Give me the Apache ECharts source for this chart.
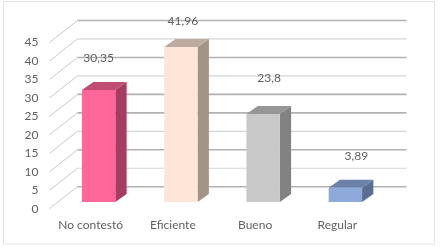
<!DOCTYPE html>
<html>
<head>
<meta charset="utf-8">
<style>html,body{margin:0;padding:0;background:#fff}#c{width:440px;height:247px}</style>
<script src="https://cdn.jsdelivr.net/npm/echarts@6/dist/echarts.min.js"></script>
</head>
<body>
<div id="c"></div>
<script>
const categories = ['No contestó', 'Eficiente', 'Bueno', 'Regular'];
const values = [30.35, 41.96, 23.8, 3.89];
const valueLabels = ['30,35', '41,96', '23,8', '3,89'];
const yTicks = [0, 5, 10, 15, 20, 25, 30, 35, 40, 45];
const heavyTicks = [0, 10, 20, 25, 35, 45];
const faceColors = ['#ff6699', '#fee5d7', '#c9c9c9', '#8eaadb'];
const sideColors = ['#a33d61', '#a39488', '#828282', '#5b6e92'];
const topColors = ['#c04c74', '#bcaba0', '#979797', '#6c81a8'];
const labelShiftX = [0, 2, 6, 11];
const labelShiftY = [-32, -25.5, -36, -32];

const TEXT = '#606060';
const FONT = 'Lato, Carlito, sans-serif';
const WALL_DX = 28, WALL_DY = -22;
const BAR_W = 33.4, OFF_X = 8, OFF_Y = -6.7, DEPTH_X = 11.3, DEPTH_Y = -8;

function poly(points, color) {
  return { type: 'polygon', shape: { points }, style: { fill: color }, silent: true };
}

const chart = echarts.init(document.getElementById('c'), null, { renderer: 'canvas' });
chart.setOption({
  animation: false,
  backgroundColor: '#ffffff',
  graphic: [{
    type: 'rect',
    shape: { x: 3.5, y: 1.5, width: 431, height: 242.5 },
    style: { fill: 'none', stroke: '#e3e3e3', lineWidth: 1 },
    z: -10, silent: true
  }],
  grid: { left: 49.5, top: 42.5, width: 329, height: 166.2 },
  xAxis: {
    type: 'category',
    data: categories,
    axisLine: { show: false },
    axisTick: { show: false },
    splitLine: { show: false },
    axisLabel: { color: TEXT, fontFamily: FONT, fontSize: 12, margin: 10, interval: 0 }
  },
  yAxis: {
    type: 'value',
    min: 0,
    max: 45,
    interval: 5,
    axisLine: { show: false },
    axisTick: { show: false },
    splitLine: { show: false },
    axisLabel: { color: TEXT, fontFamily: FONT, fontSize: 12, margin: 11, padding: [2, 0, 0, 0] }
  },
  series: [
    {
      type: 'custom',
      name: 'walls',
      silent: true,
      clip: false,
      z: 1,
      data: yTicks.map(t => [0, t]),
      encode: { x: 0, y: 1 },
      renderItem(params, api) {
        const t = api.value(1);
        const y = api.coord([0, t])[1];
        const cs = params.coordSys;
        const heavy = heavyTicks.includes(t);
        const bx = cs.x + WALL_DX, by = y + WALL_DY;
        return {
          type: 'group',
          children: [
            { type: 'line', shape: { x1: cs.x, y1: y, x2: bx, y2: by },
              style: { stroke: '#c9c9c9', lineWidth: 1 } },
            { type: 'line', shape: { x1: bx, y1: by, x2: cs.x + cs.width + WALL_DX, y2: by },
              style: { stroke: heavy ? '#b2b2b2' : '#d6d6d6', lineWidth: heavy ? 1.6 : 1.2 } }
          ]
        };
      }
    },
    {
      type: 'custom',
      name: 'barras',
      clip: false,
      z: 3,
      data: values.map((v, i) => [i, v]),
      encode: { x: 0, y: 1 },
      renderItem(params, api) {
        const i = params.dataIndex;
        const base = api.coord([api.value(0), 0]);
        const topP = api.coord([api.value(0), api.value(1)]);
        const l = base[0] + OFF_X - BAR_W / 2, r = l + BAR_W;
        const b = base[1] + OFF_Y, t = topP[1] + OFF_Y;
        return {
          type: 'group',
          children: [
            poly([[r, t], [r + DEPTH_X, t + DEPTH_Y], [r + DEPTH_X, b + DEPTH_Y], [r, b]], sideColors[i]),
            poly([[l, t], [l + DEPTH_X, t + DEPTH_Y], [r + DEPTH_X, t + DEPTH_Y], [r, t]], topColors[i]),
            { type: 'rect', shape: { x: l, y: t, width: BAR_W, height: b - t }, style: { fill: faceColors[i] } },
            { type: 'text', z2: 10,
              style: {
                text: valueLabels[i],
                x: base[0] + OFF_X + labelShiftX[i],
                y: t + labelShiftY[i],
                fill: TEXT, font: '12px ' + FONT,
                align: 'center', verticalAlign: 'middle'
              } }
          ]
        };
      }
    }
  ]
});
</script>
</body>
</html>
